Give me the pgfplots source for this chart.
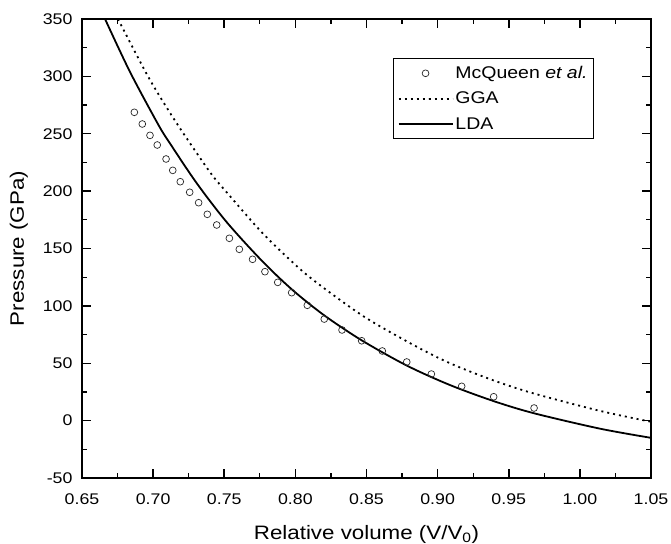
\documentclass[border=0pt]{standalone}
\usepackage{fontspec}
\setmainfont{Liberation Sans}[FakeStretch=1.15]
\usepackage{pgfplots}
\pgfplotsset{compat=1.18}

\begin{document}
\begin{tikzpicture}
\begin{axis}[
  scale only axis, width=569bp, height=459bp,
  xmin=0.65, xmax=1.05, ymin=-50, ymax=350,
  xtick={0.65,0.70,0.75,0.80,0.85,0.90,0.95,1.00,1.05},
  ytick={-50,0,50,100,150,200,250,300,350},
  minor x tick num=1, minor y tick num=1,
  tick align=inside, tick pos=both,
  axis line style={line width=2.5bp},
  tick style={black, line width=1.5bp},
  minor tick style={line width=1.2bp},
  major tick length=9bp, minor tick length=5bp,
  tick label style={font=\fontsize{15.5}{15.5}\selectfont, /pgf/number format/assume math mode=true},
  xticklabel style={yshift=-12bp, /pgf/number format/fixed, /pgf/number format/fixed zerofill, /pgf/number format/precision=2},
  yticklabel style={xshift=-6bp},
  label style={font=\fontsize{19.5}{19.5}\selectfont},
  xlabel shift=14bp, ylabel shift=8bp,
  xlabel={Relative volume (V/V\textsubscript{0})},
  ylabel={Pressure (GPa)},
  legend style={at={(0.547,0.915)}, anchor=north west, draw=black, line width=0.8bp,
                font=\fontsize{17}{17}\selectfont, inner xsep=4bp, inner ysep=6bp,
                row sep=8bp, cells={anchor=west}},
  legend image code/.code={\draw[mark repeat=2,mark phase=2,#1] plot coordinates {(0bp,0bp) (27bp,0bp) (54bp,0bp)};},
]
% McQueen et al. (experiment)
\addplot[only marks, mark=o, mark size=3.4bp, mark options={line width=0.7bp, draw=black!85}] table {
x y
0.6868 268.7
0.6924 258.5
0.6978 248.6
0.7029 240.2
0.7091 228.0
0.7138 218.1
0.7191 208.2
0.7257 199.0
0.7320 189.9
0.7381 179.8
0.7447 170.5
0.7536 158.9
0.7606 149.3
0.7699 140.6
0.7786 129.8
0.7876 120.5
0.7974 111.5
0.8084 100.5
0.8203 88.5
0.8328 79.0
0.8466 69.6
0.8611 60.7
0.8783 51.1
0.8956 40.6
0.9169 29.9
0.9394 20.8
0.9678 11.0
};
\addlegendentry{McQueen \textit{et al.}}
% GGA
\addplot[smooth, line width=1.8bp, dash pattern=on 2bp off 4bp] table {
x y
0.6753 350
0.6931 307.5
0.7025 287
0.7177 257
0.7400 216.5
0.7517 199
0.7757 165
0.7950 141.5
0.8126 122.5
0.8478 91
0.8829 66
0.9087 50
0.9394 35
0.9678 23.6
1.0141 8.5
1.0500 -1
};
\addlegendentry{GGA}
% LDA
\addplot[smooth, line width=1.8bp] table {
x y
0.6662 350
0.6837 304
0.7036 258
0.7119 241.5
0.7306 207
0.7517 173
0.7763 139.5
0.7974 114.5
0.8200 92
0.8466 70
0.8783 48
0.9087 31
0.9394 17
0.9678 6.4
1.0141 -7
1.0500 -15
};
\addlegendentry{LDA}
\end{axis}
\pgfresetboundingbox
\path (current axis.south west) ++(-82bp,-66bp) rectangle ++(671bp,544bp);
\end{tikzpicture}
\end{document}
